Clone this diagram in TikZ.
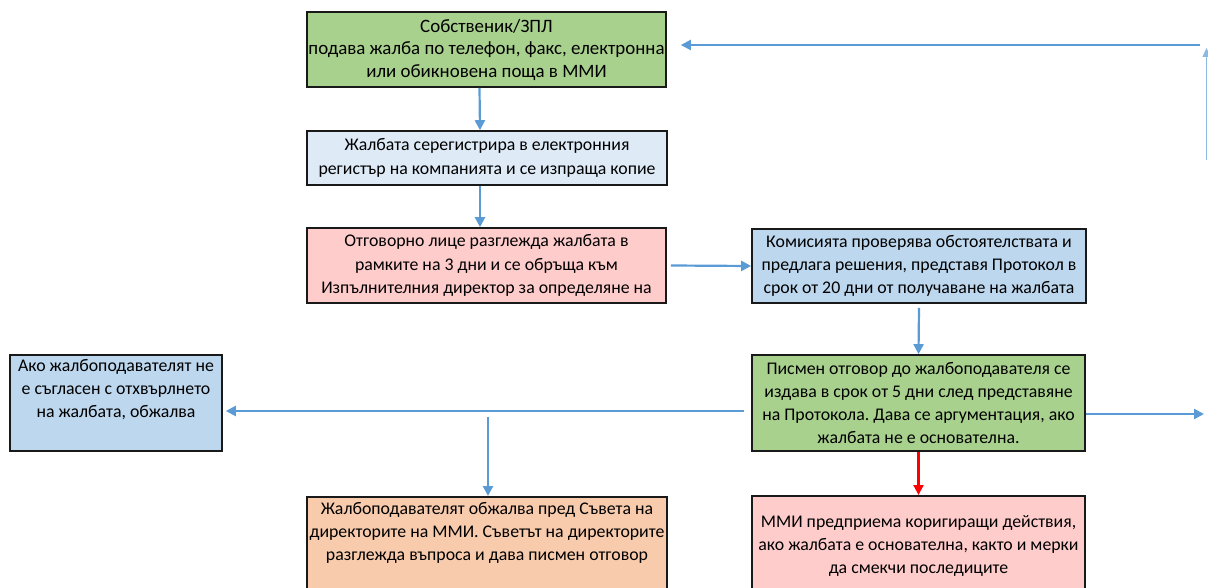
\documentclass[tikz,border=0pt]{standalone}
\usepackage{fontspec}
\setmainfont{Carlito}
\usetikzlibrary{arrows.meta}
\definecolor{bgreen}{HTML}{A9D18E}
\definecolor{blite}{HTML}{DEEBF7}
\definecolor{bblue}{HTML}{BDD7EE}
\definecolor{bpink}{HTML}{FFCCCC}
\definecolor{borange}{HTML}{F8CBAD}
\definecolor{arrblue}{HTML}{5B9BD5}
\tikzset{
  box/.style={draw=black!90, line width=1.6pt, inner sep=0pt, rectangle},
  txt/.style={align=center, font=\fontsize{17.8}{23.2}\selectfont, inner sep=0pt},
  bigtxt/.style={txt, font=\fontsize{18.9}{22.5}\selectfont},
  arr/.style={draw=arrblue, line width=2.2pt, -{Triangle[length=10pt,width=10pt]}},
  redarr/.style={draw=red, line width=2.2pt, -{Triangle[length=10pt,width=10pt]}},
}
\begin{document}
\frenchspacing
\begin{tikzpicture}[x=1pt,y=-1pt]
\useasboundingbox (0,0) rectangle (1208,588);
\clip (0,0) rectangle (1208,588);
% boxes
\node[box, fill=bgreen, minimum width=359pt, minimum height=75pt, bigtxt] (b1) at (486.5,49.5)
  {Собственик/ЗПЛ\\подава жалба по телефон, факс, електронна\\или обикновена поща в ММИ};
\node[box, fill=blite, minimum width=360pt, minimum height=54pt, txt] (b2) at (487,158)
  {Жалбата серегистрира в електронния\\регистър на компанията и се изпраща копие};
\node[box, fill=bpink, minimum width=359pt, minimum height=75pt, txt] (b3) at (486.5,265.5)
  {Отговорно лице разглежда жалбата в\\рамките на 3 дни и се обръща към\\Изпълнителния директор за определяне на};
\node[box, fill=bblue, minimum width=334pt, minimum height=74pt, txt] (b4) at (919,266)
  {Комисията проверява обстоятелствата и\\предлага решения, представя Протокол в\\срок от 20 дни от получаване на жалбата};
\node[box, fill=bgreen, minimum width=333pt, minimum height=96pt, txt] (b5) at (918.5,403)
  {Писмен отговор до жалбоподавателя се\\издава в срок от 5 дни след представяне\\на Протокола. Дава се аргументация, ако\\жалбата не е основателна.};
\node[box, fill=bblue, minimum width=212pt, minimum height=96pt] (b8) at (116,403) {};
\node[txt, anchor=north] (t8) at ([yshift=-5pt]b8.north)
  {Ако жалбоподавателят не\\е съгласен с отхвърлнето\\на жалбата, обжалва};
\node[box, fill=bpink, minimum width=333pt, minimum height=120pt, anchor=north] (b6) at (918.5,495) {};
\node[txt, anchor=north] (t6) at ([yshift=-20pt]b6.north)
  {ММИ предприема коригиращи действия,\\ако жалбата е основателна, както и мерки\\да смекчи последиците};
\node[box, fill=borange, minimum width=360pt, minimum height=120pt, anchor=north] (b7) at (487,496) {};
\node[txt, anchor=north] (t7) at ([yshift=-6pt]b7.north)
  {Жалбоподавателят обжалва пред Съвета на\\директорите на ММИ. Съветът на директорите\\разглежда въпроса и дава писмен отговор};
% connectors
\draw[arr] ([xshift=-7pt]b1.south) -- ([xshift=-7pt]b2.north);
\draw[arr] ([xshift=-7pt]b2.south) -- ([xshift=-7pt]b2.south |- b3.north);
\draw[arr] ([xshift=4pt]b3.east) -- (b4.west);
\draw[arr] ([yshift=-4pt]b4.south) -- (b5.north);
\draw[arr] ([shift={(-7pt,-8pt)}]b5.west) -- ([shift={(3pt,-8pt)}]b8.east);
\coordinate (j) at (488,417);
\draw[arr] (j) -- (j |- b7.north);
\coordinate (r1) at (1204,414);
\draw[arr] (b5.east |- r1) -- (r1);
\coordinate (t1) at (1200,45);
\draw[arr] (t1) -- ([xshift=14pt]b1.east |- t1);
\coordinate (v0) at (1206.5,160);
\coordinate (v1) at (1206.5,48);
\draw[draw=arrblue!70, line width=1.2pt, -{Triangle[length=9pt,width=8pt]}] (v0) -- (v1);
\draw[redarr] (b5.south) -- (b6.north);
\end{tikzpicture}
\end{document}
